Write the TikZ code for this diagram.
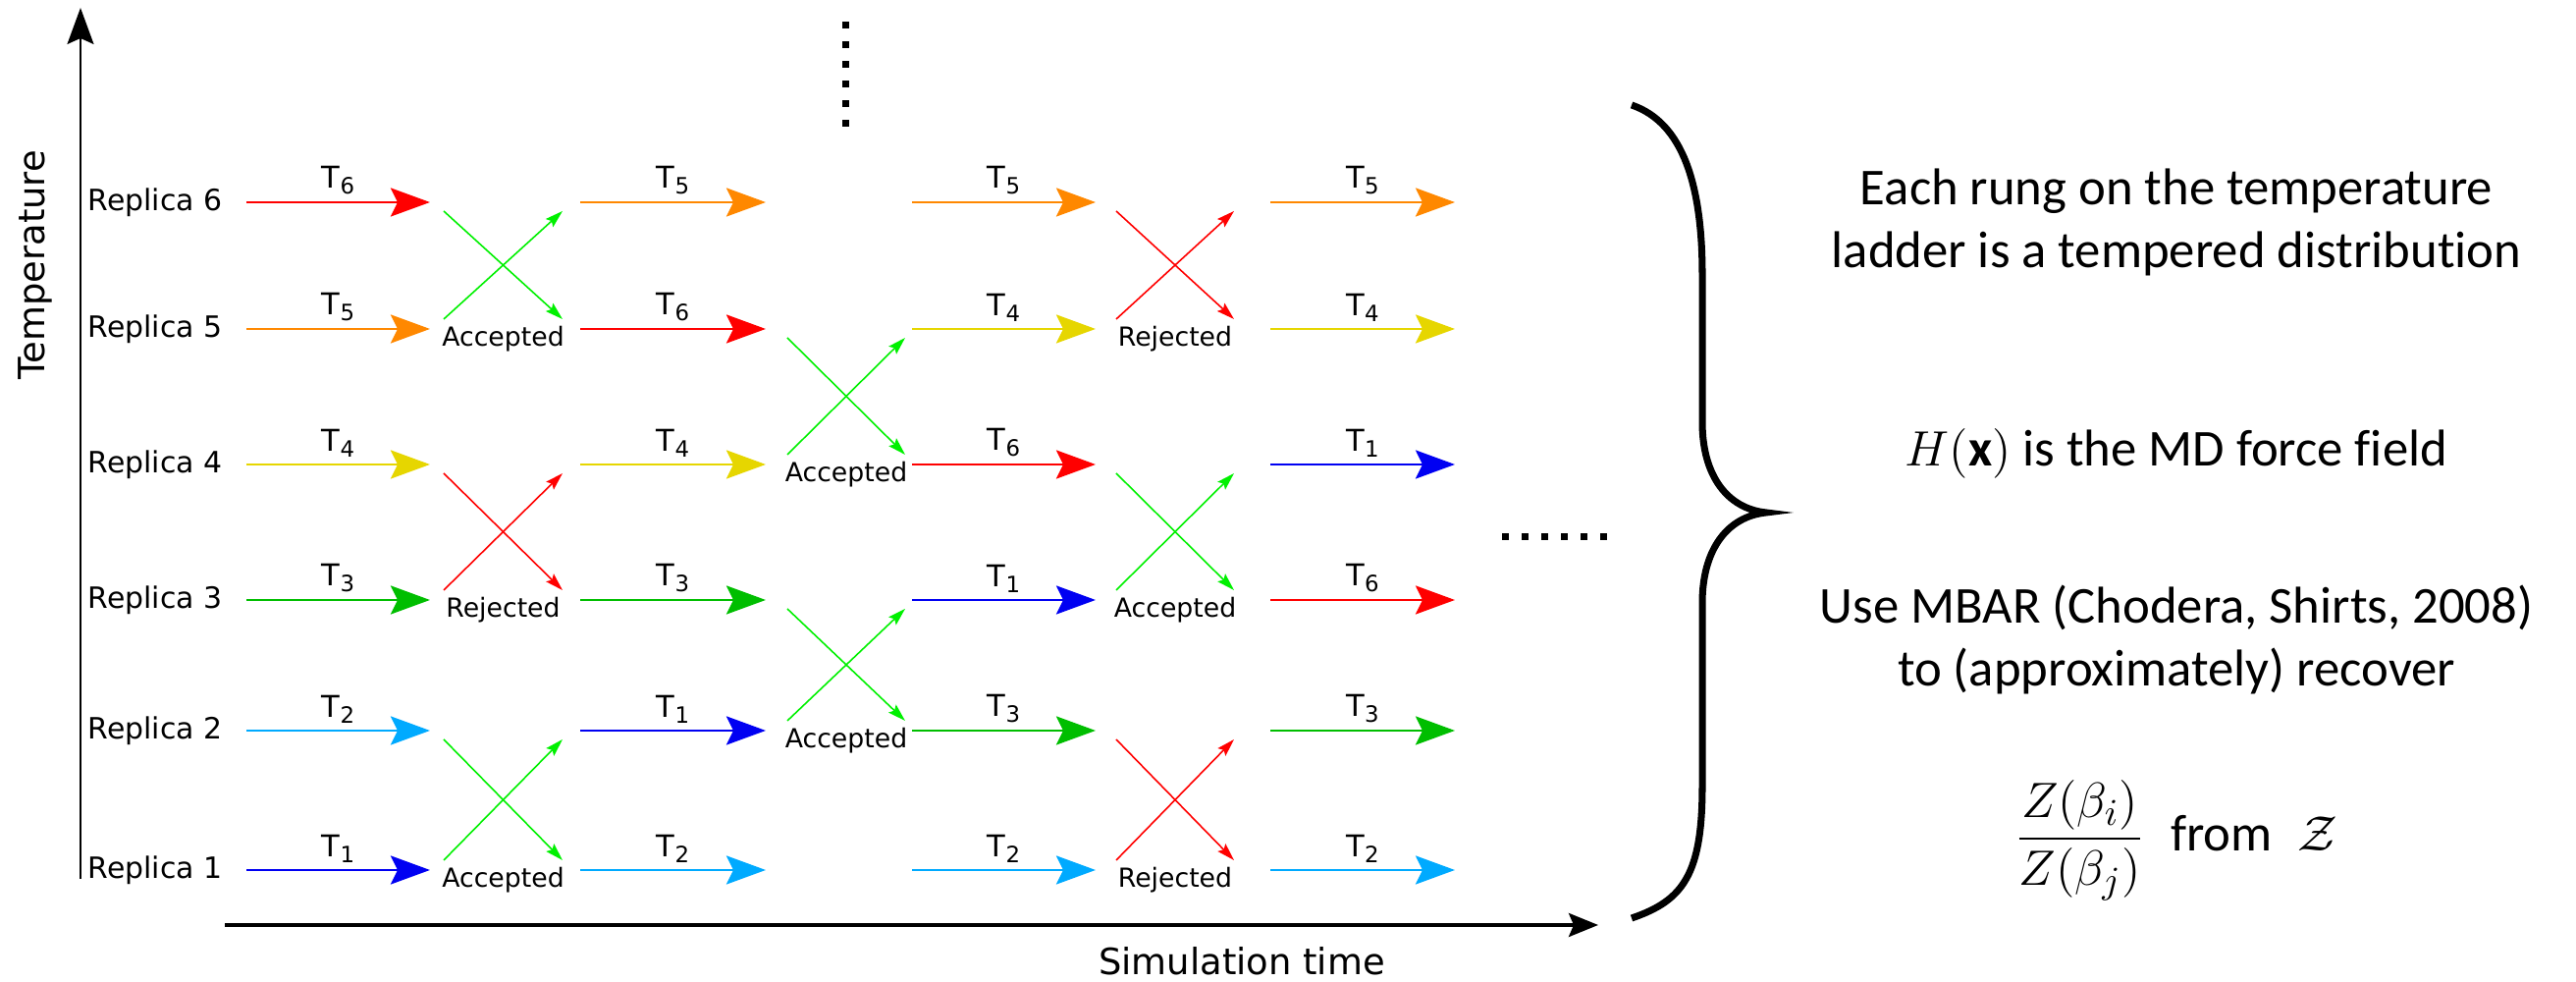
\documentclass[tikz,border=0pt]{standalone}
\usepackage{amsmath}
\usepackage{fontspec}
\setmainfont{Carlito}[Ligatures=CommonOff]
\newfontfamily\djv{DejaVu Sans}
\usetikzlibrary{arrows.meta}

% colours of the six temperatures
\definecolor{tone1}{HTML}{0000F2}
\definecolor{tone2}{HTML}{00AAFF}
\definecolor{tone3}{HTML}{00BE00}
\definecolor{tone4}{HTML}{E6D600}
\definecolor{tone5}{HTML}{FF8800}
\definecolor{tone6}{HTML}{FF0000}
\definecolor{okgreen}{HTML}{00F000}
\definecolor{nored}{HTML}{FF0000}

% T with a lowered index
\newcommand{\Tsub}[1]{T\raisebox{-1.7pt}{\fontsize{6.5}{7}\selectfont #1}}

\begin{document}
\begin{tikzpicture}[
    tarrow/.style={line width=0.8pt, -{Stealth[length=4mm,width=2.9mm,inset=0.7mm]}},
    swaparrow/.style={line width=0.45pt, -{Stealth[length=1.8mm,width=1.1mm,inset=0.3mm]}},
    tlabel/.style={above=1.8pt, inner sep=0pt, text=black, font=\djv\fontsize{8.7}{10}\selectfont},
    replabel/.style={anchor=mid west, inner sep=0pt, font=\djv\fontsize{8.5}{10}\selectfont},
    swaplabel/.style={anchor=base, inner sep=0pt, text=black, font=\djv\fontsize{7.6}{9}\selectfont},
    axislabel/.style={inner sep=0pt, font=\djv\fontsize{10.5}{12}\selectfont},
    note/.style={inner sep=0pt, align=center, font=\fontsize{15}{18.4}\selectfont}
]

    \useasboundingbox (0,0) rectangle (26.24,10);

    % Temperature axis and simulation time axis
    \coordinate (tempbot) at (0.82,1.05);
    \coordinate (temptop) at (0.82,9.92);
    \coordinate (timeleft) at (2.29,0.58);
    \coordinate (timeright) at (16.28,0.58);
    \draw[line width=0.55pt, -{Stealth[length=3.7mm,width=2.7mm,inset=0.6mm]}] (tempbot) -- (temptop);
    \draw[line width=1pt, -{Stealth[length=3mm,width=2.4mm,inset=0.5mm]}] (timeleft) -- (timeright);
    \node[axislabel, rotate=90] (templab) at (0.36,7.30) {Temperature};
    \node[axislabel, anchor=base] (timelab) at (12.65,0.07) {Simulation time};

    % Replica names, one per rung
    \foreach \r/\y in {6/7.94, 5/6.65, 4/5.27, 3/3.89, 2/2.56, 1/1.14} {
        \node[replabel] (rep\r) at (0.89,\y) {Replica \r};
    }

    % Start and end points of the arrows
    \foreach \c/\xs/\xe in {1/2.51/4.38, 2/5.91/7.80, 3/9.29/11.16, 4/12.94/14.82} {
        \foreach \r/\y in {6/7.94, 5/6.65, 4/5.27, 3/3.89, 2/2.56, 1/1.14} {
            \coordinate (s\c-\r) at (\xs,\y);
            \coordinate (e\c-\r) at (\xe,\y);
        }
    }

    % Runs at each temperature (column/replica/temperature)
    \foreach \c/\r/\t in {1/6/6, 1/5/5, 1/4/4, 1/3/3, 1/2/2, 1/1/1,
                          2/6/5, 2/5/6, 2/4/4, 2/3/3, 2/2/1, 2/1/2,
                          3/6/5, 3/5/4, 3/4/6, 3/3/1, 3/2/3, 3/1/2,
                          4/6/5, 4/5/4, 4/4/1, 4/3/6, 4/2/3, 4/1/2} {
        \draw[tarrow, tone\t] (s\c-\r) -- node[tlabel] (t\c-\r) {\Tsub{\t}} (e\c-\r);
    }

    % Swap attempts between neighbouring rungs
    \foreach \k/\xa/\xb/\yu/\yl/\col/\txt in {
            a/4.52/5.73/7.94/6.65/okgreen/Accepted,
            b/4.52/5.73/5.27/3.89/nored/Rejected,
            c/4.52/5.73/2.56/1.14/okgreen/Accepted,
            d/8.02/9.22/6.65/5.27/okgreen/Accepted,
            e/8.02/9.22/3.89/2.56/okgreen/Accepted,
            f/11.37/12.57/7.94/6.65/nored/Rejected,
            g/11.37/12.57/5.27/3.89/okgreen/Accepted,
            h/11.37/12.57/2.56/1.14/nored/Rejected} {
        \coordinate (\k-ul) at (\xa,\yu-0.09);
        \coordinate (\k-ur) at (\xb,\yu-0.09);
        \coordinate (\k-ll) at (\xa,\yl+0.10);
        \coordinate (\k-lr) at (\xb,\yl+0.10);
        \draw[swaparrow, \col] (\k-ul) -- (\k-lr);
        \draw[swaparrow, \col] (\k-ll) -- (\k-ur);
        \node[swaplabel] (swap\k) at ({(\xa+\xb)/2},\yl-0.18) {\txt};
    }

    % More rungs above, more time to the right
    \foreach \i in {0,...,5} {
        \fill ({8.61-0.035},{9.74-0.2*\i-0.035}) rectangle +(0.07,0.07);
        \fill ({15.33+0.2*\i-0.035},{4.53-0.035}) rectangle +(0.07,0.07);
    }

    % Curly brace
    \draw[line width=2pt] (16.62,8.93) .. controls (17.15,8.75) and (17.34,8.10) .. (17.34,7.20)
        -- (17.34,5.70) .. controls (17.34,5.15) and (17.60,4.82) .. (17.99,4.78)
        .. controls (17.60,4.74) and (17.34,4.41) .. (17.34,3.86)
        -- (17.34,2.00) .. controls (17.34,1.10) and (17.15,0.83) .. (16.62,0.65);

    % Notes on the right
    \node[note, anchor=north] (rung) at (22.17,8.29) {Each rung on the temperature\\ladder is a tempered distribution};
    \node[note, anchor=base] (field) at (22.17,5.25) {$H(\mathbf{x})$ is the MD force field};
    \node[note, anchor=north] (mbar) at (22.17,4.05) {Use MBAR (Chodera, Shirts, 2008)\\to (approximately) recover};
    \node[note, anchor=base] (ratio) at (22.17,1.33) {$\dfrac{Z(\beta_i)}{Z(\beta_j)}$\enspace from\enspace$\mathcal{Z}$};

\end{tikzpicture}
\end{document}
